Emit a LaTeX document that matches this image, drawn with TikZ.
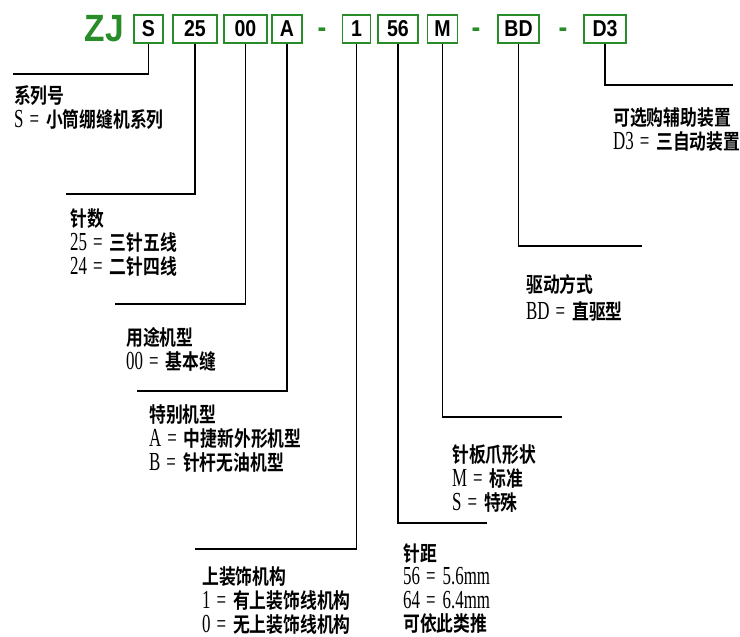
\documentclass[tikz,border=0pt]{standalone}
\usepackage{fontspec}
\setmainfont{Liberation Serif}
\newfontfamily\cjk{Noto Sans CJK SC Bold}[FakeStretch=0.8]
\newfontfamily\lat{Liberation Serif}[FakeStretch=0.65]
\newfontfamily\boxf{Liberation Sans Bold}[FakeStretch=0.85]
\newfontfamily\zjf{Liberation Sans Bold}[FakeStretch=0.88]
\definecolor{zjgreen}{RGB}{40,140,40}
\newcommand\lt[1]{{\lat\fontsize{26}{24}\selectfont #1}}
\newcommand\myeq{\hspace{6pt}=\hspace{7pt}}
\begin{document}
\begin{tikzpicture}[x=1pt,y=-1pt,
  codebox/.style={draw=zjgreen,line width=1.6pt,minimum height=28pt,inner sep=0pt,
    font=\boxf\fontsize{23}{23}\selectfont,text=black},
  sep/.style={inner sep=0pt,anchor=base,text=zjgreen,font=\zjf\fontsize{30}{30}\selectfont},
  lbl/.style={anchor=north west,inner sep=0pt,align=left,font=\fontsize{21}{24}\selectfont},
  conn/.style={draw=black,line width=1.2pt}]
\useasboundingbox (0,0) rectangle (740,637);
\fill[white] (0,0) rectangle (740,637);
% header
\node[inner sep=0pt,text=zjgreen,font=\zjf\fontsize{38}{38}\selectfont] (zj) at (104.5,29) {ZJ};
\node[codebox,minimum width=29pt] (bS) at (148.5,29) {S};
\node[codebox,minimum width=44pt] (b25) at (195,29) {25};
\node[codebox,minimum width=43pt] (b00) at (245.5,29) {00};
\node[codebox,minimum width=30pt] (bA) at (287,29) {A};
\node[sep] (d1) at (322,37.5) {-};
\node[codebox,minimum width=28pt] (b1) at (356.5,29) {1};
\node[codebox,minimum width=40pt] (b56) at (398,29) {56};
\node[codebox,minimum width=30pt] (bM) at (442.5,29) {M};
\node[sep] (d2) at (476,37.5) {-};
\node[codebox,minimum width=41pt] (bBD) at (518.5,29) {BD};
\node[sep] (d3) at (563,37.5) {-};
\node[codebox,minimum width=42pt] (bD3) at (605,29) {D3};
% connector ends
\coordinate (cS) at (13,74);
\coordinate (c25) at (66,194);
\coordinate (c00) at (115,304);
\coordinate (cA) at (137,391);
\coordinate (c1) at (195,549);
\coordinate (c56) at (487,523);
\coordinate (cM) at (562,417);
\coordinate (cBD) at (642,246);
\coordinate (cD3) at (733,85);
\draw[conn] (bS.south) |- (cS);
\draw[conn] (b25.south) |- (c25);
\draw[conn] (b00.south) |- (c00);
\draw[conn] (bA.south) |- (cA);
\draw[conn] (b1.south) |- (c1);
\draw[conn] (b56.south) |- (c56);
\draw[conn] (bM.south) |- (cM);
\draw[conn] (bBD.south) |- (cBD);
\draw[conn] (bD3.south) |- (cD3);
% labels
\node[lbl] (tS) at (14,85) {{\cjk 系列号}\\\lt{S\myeq}{\cjk 小筒绷缝机系列}};
\node[lbl] (t25) at (70,208) {{\cjk 针数}\\\lt{25\myeq}{\cjk 三针五线}\\\lt{24\myeq}{\cjk 二针四线}};
\node[lbl] (t00) at (126,327) {{\cjk 用途机型}\\\lt{00\myeq}{\cjk 基本缝}};
\node[lbl] (tA) at (149,404) {{\cjk 特别机型}\\\lt{A\myeq}{\cjk 中捷新外形机型}\\\lt{B\myeq}{\cjk 针杆无油机型}};
\node[lbl,font=\fontsize{21}{24}\selectfont] (t1) at (202,566) {{\cjk 上装饰机构}\\\lt{1\myeq}{\cjk 有上装饰线机构}\\\lt{0\myeq}{\cjk 无上装饰线机构}};
\node[lbl,font=\fontsize{21}{23.5}\selectfont] (t56) at (403,543) {{\cjk 针距}\\\lt{56\myeq 5.6mm}\\\lt{64\myeq 6.4mm}\\{\cjk 可依此类推}};
\node[lbl,font=\fontsize{21}{24}\selectfont] (tM) at (452,444) {{\cjk 针板爪形状}\\\lt{M\myeq}{\cjk 标准}\\\lt{S\myeq}{\cjk 特殊}};
\node[lbl,font=\fontsize{21}{27}\selectfont] (tBD) at (526,274) {{\cjk 驱动方式}\\\lt{BD\myeq}{\cjk 直驱型}};
\node[lbl,font=\fontsize{21}{24}\selectfont] (tD3) at (613,107) {{\cjk 可选购辅助装置}\\\lt{D3\myeq}{\cjk 三自动装置}};
\end{tikzpicture}
\end{document}
